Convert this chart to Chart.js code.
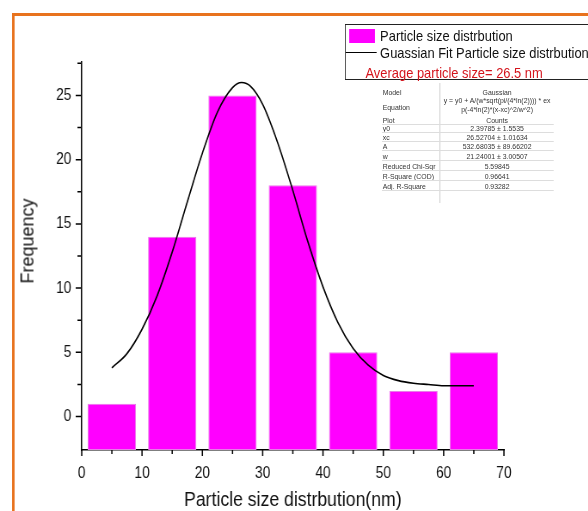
<!DOCTYPE html>
<html>
<head>
<meta charset="utf-8">
<script src="https://cdn.jsdelivr.net/npm/chart.js@4.4.1/dist/chart.umd.min.js"></script>
<style>
  body { margin: 0; background: #fff; }
  #clip { position: relative; width: 588px; height: 511px; overflow: hidden; }
  /* the source figure is squeezed sideways, so draw wide and squeeze */
  #wrap { position: absolute; left: 0; top: 0; width: 684px; height: 511px;
          transform: scaleX(0.86); transform-origin: 0 0; }
  canvas { position: absolute; left: 0; top: 0; }
  #frame { position: absolute; left: 14px; top: 13px; width: 700px; height: 600px;
           border-top: 3px solid #e8731e; border-left: 3px solid #e8731e; }
  #ytitle { position: absolute; left: 28px; top: 241px; transform: translate(-50%, -50%) rotate(-90deg);
            font: 18px 'Liberation Sans', Arial, sans-serif; color: #111; white-space: nowrap; }
  #legend { position: absolute; left: 401px; top: 24px; width: 300px; height: 54px;
            border: 1px solid #222; background: #fff; color: #111; font-size: 15px;
            font-family: 'Liberation Sans', Arial, sans-serif; }
  #legend div { position: absolute; line-height: 16px; white-space: nowrap; }
  #fit { position: absolute; left: 444px; top: 84px; width: 200px; font-size: 8px; color: #333;
         font-family: 'Liberation Sans', Arial, sans-serif; }
  #fit div { position: absolute; white-space: nowrap; line-height: 9px; }
</style>
</head>
<body>
<div id="clip">
<div id="wrap">
  <div id="frame"></div>
  <canvas id="chart" width="684" height="511"></canvas>
  <div id="legend"></div>
  <div id="fit"></div>
</div>
<div id="ytitle">Frequency</div>
</div>
<script>
// histogram bins (nm) and counts
const binCenters = [5, 15, 25, 35, 45, 55, 65];
const counts = [1, 14, 25, 18, 5, 2, 5];

// gaussian fit curve
const fitX = [5, 7.5, 10, 12.5, 15, 17.5, 20, 22.5, 25, 26.5, 28, 30, 32.5, 35, 37.5, 40, 42.5, 45, 47.5, 50, 52.5, 55, 57.5, 60, 62.5, 65];
const fitY = [3.8, 4.9, 6.8, 9.4, 12.8, 16.7, 20.5, 23.7, 25.6, 26.0, 25.7, 24.3, 21.3, 17.6, 13.6, 10.1, 7.3, 5.3, 4.0, 3.2, 2.8, 2.6, 2.5, 2.4, 2.4, 2.4];

const xTicks = [0, 5, 10, 15, 20, 25, 30, 35, 40, 45, 50, 55, 60, 65, 70];
const yTicks = [0, 2.5, 5, 7.5, 10, 12.5, 15, 17.5, 20, 22.5, 25, 27.5];
const yMin = -2.6, yMax = 27.6;

const legendItems = ["Particle size distrbution", "Guassian Fit Particle size distrbution"];
const avgText = "Average particle size= 26.5 nm";

const fitRows = [
  ["Model", "Gaussian"],
  ["Equation", "y = y0 + A/(w*sqrt(pi/(4*ln(2)))) * ex|p(-4*ln(2)*(x-xc)^2/w^2)"],
  ["Plot", "Counts"],
  ["y0", "2.39785 \u00b1 1.5535"],
  ["xc", "26.52704 \u00b1 1.01634"],
  ["A", "532.68035 \u00b1 89.66202"],
  ["w", "21.24001 \u00b1 3.00507"],
  ["Reduced Chi-Sqr", "5.59845"],
  ["R-Square (COD)", "0.96641"],
  ["Adj. R-Square", "0.93282"],
];

Chart.defaults.font.family = "'Liberation Sans', Arial, sans-serif";
Chart.defaults.color = "#111";

// major/minor tick marks outside the axes
const tickMarks = {
  id: "tickMarks",
  afterDraw(chart) {
    const ctx = chart.ctx;
    const xs = chart.scales.x, ys = chart.scales.y;
    ctx.save();
    ctx.strokeStyle = "#000";
    ctx.lineWidth = 1.5;
    ctx.beginPath();
    xTicks.forEach((v) => {
      const px = xs.getPixelForValue(v);
      const len = v % 10 === 0 ? 6 : 4;
      ctx.moveTo(px, ys.bottom);
      ctx.lineTo(px, ys.bottom + len);
    });
    yTicks.forEach((v) => {
      const py = ys.getPixelForValue(v);
      const len = v % 5 === 0 ? 7 : 5;
      ctx.moveTo(xs.left, py);
      ctx.lineTo(xs.left - len, py);
    });
    ctx.stroke();
    ctx.restore();
  },
};

new Chart(document.getElementById("chart"), {
  data: {
    datasets: [
      {
        type: "line",
        label: legendItems[1],
        data: fitX.map((x, i) => ({ x: x, y: fitY[i] })),
        borderColor: "#000",
        borderWidth: 1.6,
        pointRadius: 0,
        cubicInterpolationMode: "monotone",
        fill: false,
      },
      {
        type: "bar",
        label: legendItems[0],
        data: binCenters.map((x, i) => ({ x: x, y: counts[i] })),
        base: yMin,
        backgroundColor: "#ff00ff",
        borderColor: "#e87ce8",
        borderWidth: 1,
        borderSkipped: false,
        barPercentage: 0.8,
        categoryPercentage: 1,
      },
    ],
  },
  options: {
    responsive: false,
    animation: false,
    layout: { padding: { left: 16, right: 98, top: 62, bottom: 0 } },
    plugins: { legend: { display: false }, tooltip: { enabled: false } },
    scales: {
      x: {
        type: "linear",
        min: 0,
        max: 70,
        offset: false,
        afterBuildTicks: (s) => { s.ticks = xTicks.filter((v) => v % 10 === 0).map((v) => ({ value: v })); },
        afterFit: (s) => { s.height = 61; },
        grid: { display: false, drawTicks: true, tickLength: 6 },
        border: { display: true, color: "#000", width: 1.5 },
        ticks: {
          autoSkip: false,
          maxRotation: 0,
          padding: 8,
          font: { size: 16 },
        },
        title: {
          display: true,
          text: "Particle size distrbution(nm)",
          font: { size: 20.5, lineHeight: 1 },
          padding: { top: 0, bottom: 0 },
        },
      },
      y: {
        min: yMin,
        max: yMax,
        afterBuildTicks: (s) => { s.ticks = yTicks.filter((v) => v % 5 === 0).map((v) => ({ value: v })); },
        afterFit: (s) => { s.width = 79; },
        grid: { display: false, drawTicks: true, tickLength: 7 },
        border: { display: true, color: "#000", width: 1.5 },
        ticks: {
          autoSkip: false,
          padding: 5,
          font: { size: 16 },
        },
      },
    },
  },
  plugins: [tickMarks],
});

// legend box
const legend = document.getElementById("legend");
legend.innerHTML =
  '<div style="left:4px;top:4px;width:30px;height:14px;background:#ff00ff;"></div>' +
  '<div style="left:40px;top:3px;">' + legendItems[0] + "</div>" +
  '<div style="left:0px;top:27px;width:36px;height:0;border-top:1.5px solid #000;"></div>' +
  '<div style="left:40px;top:20px;">' + legendItems[1] + "</div>" +
  '<div style="left:23px;top:40px;color:#d4141c;">' + avgText + "</div>";

// fit parameter table
const fit = document.getElementById("fit");
const rowY = [8, 23, 36, 44, 53, 62, 72, 82, 92, 102];
let html = '<div style="left:67px;top:-1px;height:120px;border-left:1px solid #ccc;"></div>';
fitRows.forEach((r, i) => {
  const y = rowY[i];
  html += '<div style="left:1px;top:' + (y - 4.5) + 'px;">' + r[0] + "</div>";
  const parts = r[1].split("|");
  if (parts.length === 2) {
    html += '<div style="left:68px;width:132px;text-align:center;top:' + (y - 11) + 'px;">' + parts[0] + "</div>";
    html += '<div style="left:68px;width:132px;text-align:center;top:' + (y - 2) + 'px;">' + parts[1] + "</div>";
  } else {
    html += '<div style="left:68px;width:132px;text-align:center;top:' + (y - 4.5) + 'px;">' + r[1] + "</div>";
  }
  if (i >= 2) {
    html += '<div style="left:0;top:' + (y + 4) + 'px;width:200px;height:0;border-top:1px solid #ddd;"></div>';
  }
});
fit.innerHTML = html;
</script>
</body>
</html>
